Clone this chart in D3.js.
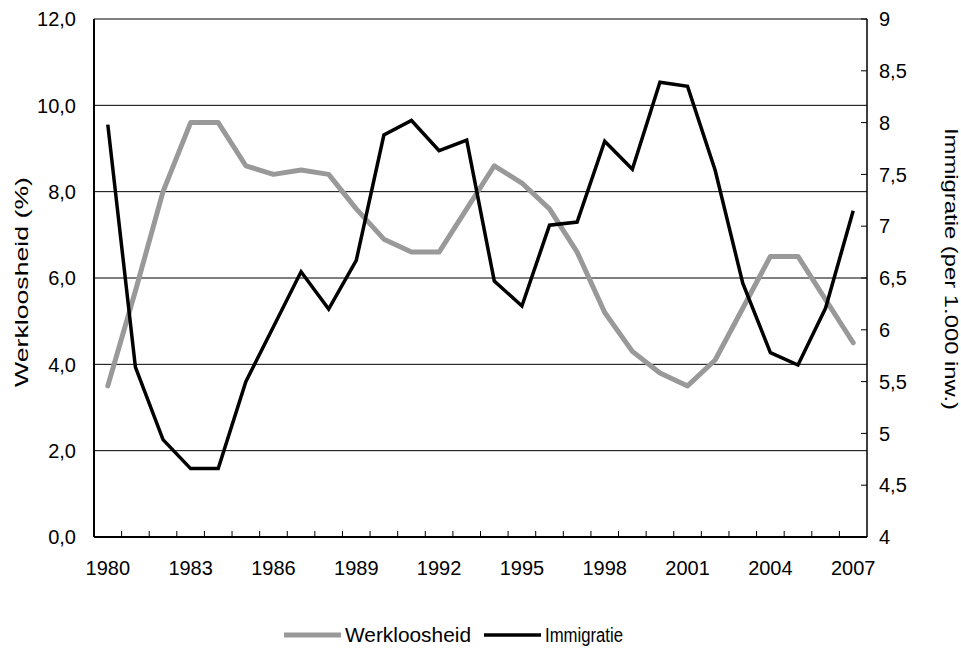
<!DOCTYPE html>
<html>
<head>
<meta charset="utf-8">
<script src="https://cdn.jsdelivr.net/npm/d3@7"></script>
<style>
  body { margin: 0; background: #fff; }
  text { font-family: "Liberation Sans", Arial, sans-serif; fill: #000; }
</style>
</head>
<body>
<div id="chart"></div>
<script>
// data
const years = d3.range(1980, 2008);
const werkloosheid = [3.5, 5.7, 8.0, 9.6, 9.6, 8.6, 8.4, 8.5, 8.4, 7.6, 6.9, 6.6, 6.6, 7.6, 8.6, 8.2, 7.6, 6.6, 5.2,
  4.3, 3.8, 3.5, 4.1, 5.3, 6.5, 6.5, 5.5, 4.5];
const immigratie = [7.98, 5.64, 4.94, 4.66, 4.66, 5.5, 6.03, 6.56, 6.2, 6.67, 7.88, 8.02, 7.73, 7.83, 6.47, 6.23, 7.01,
  7.04, 7.82, 7.55, 8.39, 8.35, 7.54, 6.45, 5.78, 5.66, 6.21, 7.15];
const leftTicks = [0, 2, 4, 6, 8, 10, 12];
const rightTicks = [4, 4.5, 5, 5.5, 6, 6.5, 7, 7.5, 8, 8.5, 9];
const labelYears = [1980, 1983, 1986, 1989, 1992, 1995, 1998, 2001, 2004, 2007];

const W = 961, H = 650;
const margin = { top: 19, right: 94, bottom: 113, left: 94 };
const width = W - margin.left - margin.right;
const height = H - margin.top - margin.bottom;

const svg = d3.select("#chart").append("svg")
  .attr("width", W)
  .attr("height", H);
const g = svg.append("g")
  .attr("transform", `translate(${margin.left},${margin.top})`);

const x = d3.scaleBand().domain(years).range([0, width]);
const yL = d3.scaleLinear().domain([0, 12]).range([height, 0]);
const yR = d3.scaleLinear().domain([4, 9]).range([height, 0]);
const fmt = d => d3.format(".1f")(d).replace(".", ",");
const fmtR = d => String(d).replace(".", ",");

// gridlines
g.append("g").selectAll("line")
  .data(leftTicks.slice(1))
  .join("line")
  .attr("x1", 0).attr("x2", width)
  .attr("y1", d => yL(d)).attr("y2", d => yL(d))
  .attr("stroke", "#000").attr("stroke-width", 1);

// left axis labels
g.append("g").selectAll("text")
  .data(leftTicks)
  .join("text")
  .attr("x", -18)
  .attr("y", d => yL(d))
  .attr("dy", "0.36em")
  .attr("text-anchor", "end")
  .style("font-size", "20px")
  .text(fmt);

// right axis with inward ticks
g.append("g").selectAll("line")
  .data(rightTicks)
  .join("line")
  .attr("x1", width - 6).attr("x2", width)
  .attr("y1", d => yR(d)).attr("y2", d => yR(d))
  .attr("stroke", "#000").attr("stroke-width", 1);
g.append("g").selectAll("text")
  .data(rightTicks)
  .join("text")
  .attr("x", width + 12)
  .attr("y", d => yR(d))
  .attr("dy", "0.36em")
  .attr("text-anchor", "start")
  .style("font-size", "20px")
  .text(fmtR);

// x ticks between categories
g.append("g").selectAll("line")
  .data(years.slice(1))
  .join("line")
  .attr("x1", d => x(d)).attr("x2", d => x(d))
  .attr("y1", height - 6).attr("y2", height)
  .attr("stroke", "#000").attr("stroke-width", 1);
g.append("g").selectAll("text")
  .data(labelYears)
  .join("text")
  .attr("x", d => x(d) + x.bandwidth() / 2)
  .attr("y", height + 38)
  .attr("text-anchor", "middle")
  .style("font-size", "20px")
  .text(d => d);

// frame
g.append("line").attr("x1", 0).attr("x2", 0).attr("y1", 0).attr("y2", height)
  .attr("stroke", "#000").attr("stroke-width", 2);
g.append("line").attr("x1", width).attr("x2", width).attr("y1", 0).attr("y2", height)
  .attr("stroke", "#000").attr("stroke-width", 1.5);
g.append("line").attr("x1", 0).attr("x2", width).attr("y1", height).attr("y2", height)
  .attr("stroke", "#000").attr("stroke-width", 2);

// lines
const cx = (d, i) => x(years[i]) + x.bandwidth() / 2;
const lineL = d3.line().x(cx).y(d => yL(d));
const lineR = d3.line().x(cx).y(d => yR(d));

g.append("path")
  .datum(werkloosheid)
  .attr("d", lineL)
  .attr("fill", "none")
  .attr("stroke", "#999999")
  .attr("stroke-width", 5)
  .attr("stroke-linejoin", "round")
  .attr("stroke-linecap", "round");
g.append("path")
  .datum(immigratie)
  .attr("d", lineR)
  .attr("fill", "none")
  .attr("stroke", "#000")
  .attr("stroke-width", 3.5)
  .attr("stroke-linejoin", "miter");

// axis titles
svg.append("text")
  .attr("transform", `translate(28,${margin.top + height / 2 + 4}) rotate(-90)`)
  .attr("text-anchor", "middle")
  .attr("textLength", 210)
  .attr("lengthAdjust", "spacingAndGlyphs")
  .style("font-size", "18px")
  .text("Werkloosheid (%)");
svg.append("text")
  .attr("transform", `translate(945,${margin.top + height / 2 - 9}) rotate(90)`)
  .attr("text-anchor", "middle")
  .attr("textLength", 282)
  .attr("lengthAdjust", "spacingAndGlyphs")
  .style("font-size", "18px")
  .text("Immigratie (per 1.000 inw.)");

// legend
const legend = svg.append("g").attr("transform", "translate(0,635)");
const items = [
  { name: "Werkloosheid", color: "#999999", w: 5, x0: 284, len: 126 },
  { name: "Immigratie", color: "#000", w: 3.5, x0: 484, len: 78 }
];
items.forEach(it => {
  legend.append("line")
    .attr("x1", it.x0).attr("x2", it.x0 + 57)
    .attr("y1", 0).attr("y2", 0)
    .attr("stroke", it.color).attr("stroke-width", it.w);
  legend.append("text")
    .attr("x", it.x0 + 61)
    .attr("y", 0)
    .attr("dy", "0.36em")
    .attr("textLength", it.len)
    .attr("lengthAdjust", "spacingAndGlyphs")
    .style("font-size", "20px")
    .text(it.name);
});
</script>
</body>
</html>
